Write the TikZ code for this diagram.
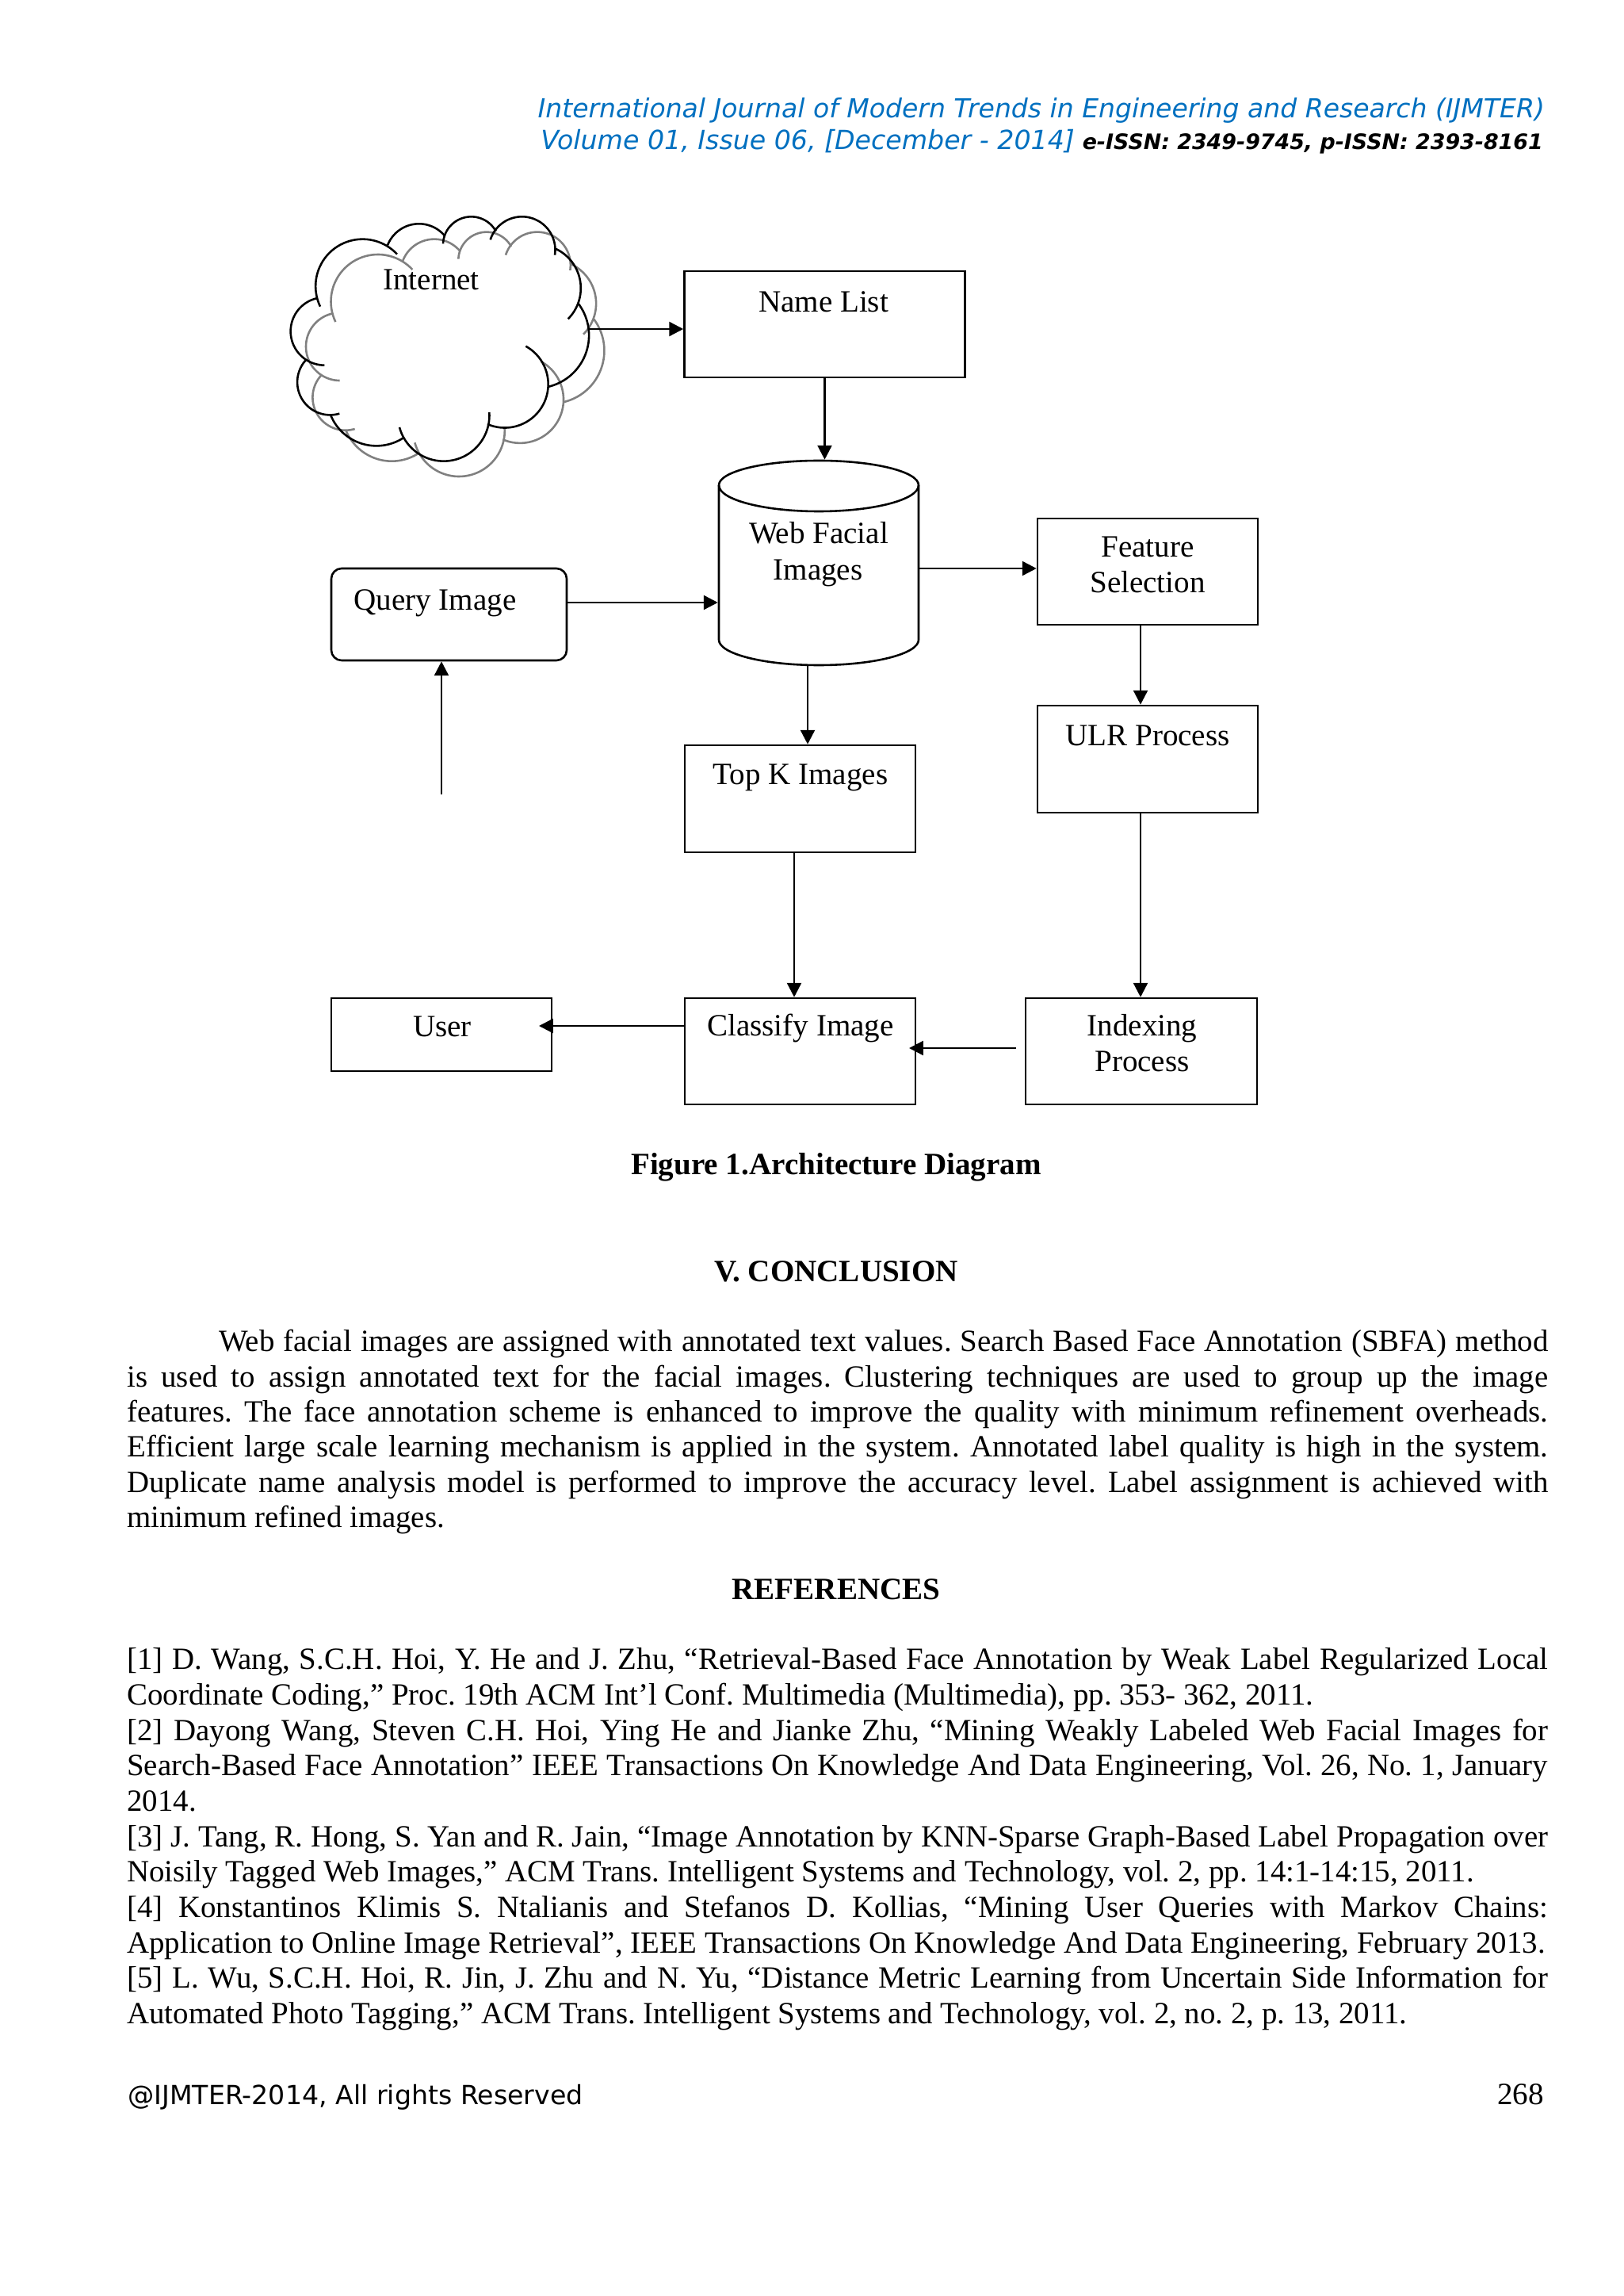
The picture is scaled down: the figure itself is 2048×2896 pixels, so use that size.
\documentclass[tikz,border=0pt]{standalone}
\usepackage{fontspec}
\setmainfont{Liberation Serif}
\newfontfamily\headfont{DejaVu Sans}
\usetikzlibrary{arrows.meta}
\frenchspacing
\definecolor{headblue}{RGB}{0,112,192}
\newcounter{tln}
\newlength{\bodyW}\setlength{\bodyW}{520.9pt}
\newlength{\bodyWi}\setlength{\bodyWi}{487.2pt}
\newcommand{\jline}[2]{\stepcounter{tln}\node[txtl] (line\thetln) at (159,#1) {\makebox[\bodyW][s]{#2}};}
\newcommand{\jlinei}[2]{\stepcounter{tln}\node[txtl] (line\thetln) at (275,#1) {\makebox[\bodyWi][s]{#2}};}
\newcommand{\pline}[2]{\stepcounter{tln}\node[txtl] (line\thetln) at (159,#1) {#2};}
% circular arc from A through M to B
\newcommand{\carc}[6]{%
 \pgfmathsetmacro{\ax}{#1/100}\pgfmathsetmacro{\ay}{#2/100}%
 \pgfmathsetmacro{\mx}{#3/100}\pgfmathsetmacro{\my}{#4/100}%
 \pgfmathsetmacro{\bx}{#5/100}\pgfmathsetmacro{\by}{#6/100}%
 \pgfmathsetmacro{\dd}{2*(\ax*(\my-\by)+\mx*(\by-\ay)+\bx*(\ay-\my))}%
 \pgfmathsetmacro{\sa}{\ax*\ax+\ay*\ay}\pgfmathsetmacro{\sm}{\mx*\mx+\my*\my}\pgfmathsetmacro{\sb}{\bx*\bx+\by*\by}%
 \pgfmathsetmacro{\cx}{(\sa*(\my-\by)+\sm*(\by-\ay)+\sb*(\ay-\my))/\dd}%
 \pgfmathsetmacro{\cy}{(\sa*(\bx-\mx)+\sm*(\ax-\bx)+\sb*(\mx-\ax))/\dd}%
 \pgfmathsetmacro{\rr}{100*sqrt((\ax-\cx)*(\ax-\cx)+(\ay-\cy)*(\ay-\cy))}%
 \pgfmathsetmacro{\aa}{atan2(\ay-\cy,\ax-\cx)}%
 \pgfmathsetmacro{\am}{atan2(\my-\cy,\mx-\cx)}%
 \pgfmathsetmacro{\ab}{atan2(\by-\cy,\bx-\cx)}%
 \pgfmathsetmacro{\dm}{mod(\am-\aa+720,360)}%
 \pgfmathsetmacro{\db}{mod(\ab-\aa+720,360)}%
 \pgfmathsetmacro{\sweep}{\dm<\db ? \db : \db-360}%
 \pgfmathsetmacro{\aend}{\aa+\sweep}%
 \draw plot[domain=\aa:\aend,samples=40,smooth] ({100*\cx+\rr*cos(\x)},{100*\cy+\rr*sin(\x)});%
}
\newcommand{\cloudshape}{%
 \carc{192}{410}{350}{155}{483}{212}
 \carc{447}{178}{570}{97}{663}{142}
 \carc{657}{172}{765}{70}{857}{125}
 \carc{836}{157}{950}{70}{1080}{215}
 \carc{1080}{190}{1178}{350}{1130}{457}
 \carc{1170}{400}{1205}{560}{1057}{713}
 \carc{970}{560}{1055}{700}{825}{855}
 \carc{832}{810}{660}{995}{492}{867}
 \carc{505}{908}{400}{937}{232}{822}
 \carc{265}{815}{110}{730}{138}{612}
 \carc{208}{632}{80}{500}{182}{378}
}
\tikzset{
 boxn/.style={draw=black,line width=0.75pt,inner sep=0pt,fill=white},
 ghost/.style={inner sep=0pt},
 lbl/.style={anchor=base,inner sep=0pt,font=\fontsize{11.35}{14}\selectfont},
 txtl/.style={anchor=base west,inner sep=0pt,font=\fontsize{11.3}{14}\selectfont},
 boldc/.style={anchor=base,inner sep=0pt,font=\fontsize{11.35}{14}\selectfont\bfseries},
 arr/.style={line width=0.75pt,-{Triangle[length=5.2pt,width=5.2pt]}},
 dims/.style 2 args={minimum width=#1*0.29053pt,minimum height=#2*0.29053pt},
}
\begin{document}
\begin{tikzpicture}[x=0.29053pt,y=-0.29053pt,line width=0.75pt]
\useasboundingbox[fill=white] (0,0) rectangle (2048,2896);

% header
\node[anchor=base east,inner sep=0pt,text=headblue,font=\headfont\itshape\fontsize{9.6}{12}\selectfont] (h1) at (1950,149) {International Journal of Modern Trends in Engineering and Research (IJMTER)};
\node[anchor=base west,inner sep=0pt,text=headblue,font=\headfont\itshape\fontsize{9.65}{12}\selectfont] (h2) at (681,189) {Volume 01, Issue 06, [December - 2014]};
\node[anchor=base east,inner sep=0pt,font=\headfont\itshape\bfseries\fontsize{7.8}{10}\selectfont] (h3) at (1948,189) {e-ISSN: 2349-9745, p-ISSN: 2393-8161};

% cloud
\begin{scope}[shift={(340,250)},x=0.096843pt,y=-0.096843pt,line width=0.75pt]
 \begin{scope}[shift={(58,58)},draw=black!50]
  \cloudshape
 \end{scope}
 \begin{scope}
  \cloudshape
 \end{scope}
\end{scope}
\node[ghost,dims={500}{310}] (cloud) at (570,430) {};
\coordinate (cloudport) at (742,415);
\node[lbl] (cloudt) at (544,366) {Internet};

% boxes
\node[boxn,dims={354}{134}] (namelist) at (1040.5,409) {};
\node[lbl] (namelistt) at (1039,394) {Name List};

\node[ghost,dims={252}{258}] (web) at (1033,710) {};
\draw[line width=0.75pt] (907,612) arc[start angle=180,end angle=0,x radius=126,y radius=-31]
   -- (1159,807) arc[start angle=0,end angle=-180,x radius=126,y radius=-32] -- cycle;
\draw[line width=0.75pt] (907,612) arc[start angle=180,end angle=360,x radius=126,y radius=-33];
\node[lbl] (webt1) at (1033,686) {Web Facial};
\node[lbl] (webt2) at (1032,732) {Images};

\node[boxn,rounded corners=3.8pt,dims={297}{116}] (query) at (566.5,775) {};
\node[lbl] (queryt) at (549,770) {Query Image};

\node[boxn,dims={278}{134}] (feature) at (1448,721) {};
\node[lbl] (featuret1) at (1448,703) {Feature};
\node[lbl] (featuret2) at (1448,748) {Selection};

\node[boxn,dims={291}{135}] (topk) at (1009.5,1007.5) {};
\node[lbl] (topkt) at (1010,989) {Top K Images};

\node[boxn,dims={278}{135}] (ulr) at (1448,957.5) {};
\node[lbl] (ulrt) at (1448,940) {ULR Process};

\node[boxn,dims={278}{92}] (user) at (557,1305) {};
\node[lbl] (usert) at (558,1307) {User};

\node[boxn,dims={291}{134}] (classify) at (1009.5,1326) {};
\node[lbl] (classifyt) at (1010,1306) {Classify Image};

\node[boxn,dims={292}{134}] (indexing) at (1440,1326) {};
\node[lbl] (indexingt1) at (1441,1306) {Indexing};
\node[lbl] (indexingt2) at (1441,1351) {Process};

% connectors
\coordinate (xfree) at (557,1002);
\coordinate (xtopk) at (1019,0);
\coordinate (xulr) at (1439,0);
\coordinate (xcls) at (1002,0);
\coordinate (ytop) at (0,717);
\coordinate (yquery) at (0,760);
\coordinate (yuser) at (0,1294);
\coordinate (utip) at (680,1294);
\coordinate (itail) at (1282,1322);
\coordinate (itip) at (1147,1322);
\draw[arr] (cloudport) -- (namelist.west |- cloudport);
\draw[arr] (namelist.south) -- (namelist.south |- web.north);
\draw[arr] (query.east |- yquery) -- (web.west |- yquery);
\draw[arr] (xfree) -- (query.south -| xfree);
\draw[arr] (web.south -| xtopk) -- (topk.north -| xtopk);
\draw[arr] (web.east |- ytop) -- (feature.west |- ytop);
\draw[arr] (feature.south -| xulr) -- (ulr.north -| xulr);
\draw[arr] (ulr.south -| xulr) -- (indexing.north -| xulr);
\draw[arr] (topk.south -| xcls) -- (classify.north -| xcls);
\draw[arr] (classify.west |- yuser) -- (utip);
\draw[arr] (itail) -- (itip);

% caption and text
\node[boldc] (caption) at (1055,1481) {Figure 1.Architecture Diagram};
\node[boldc] (concl) at (1055,1616) {V. CONCLUSION};
\jlinei{1704}{Web facial images are assigned with annotated text values. Search Based Face Annotation (SBFA) method}
\jline{1749}{is used to assign annotated text for the facial images. Clustering techniques are used to group up the image}
\jline{1793}{features. The face annotation scheme is enhanced to improve the quality with minimum refinement overheads.}
\jline{1837}{Efficient large scale learning mechanism is applied in the system. Annotated label quality is high in the system.}
\jline{1882}{Duplicate name analysis model is performed to improve the accuracy level. Label assignment is achieved with}
\pline{1926}{minimum refined images.}
\node[boldc] (refs) at (1055,2017) {REFERENCES};
\jline{2105}{[1] D. Wang, S.C.H. Hoi, Y. He and J. Zhu, “Retrieval-Based Face Annotation by Weak Label Regularized Local}
\pline{2150}{Coordinate Coding,” Proc. 19th ACM Int’l Conf. Multimedia (Multimedia), pp. 353- 362, 2011.}
\jline{2195}{[2] Dayong Wang, Steven C.H. Hoi, Ying He and Jianke Zhu, “Mining Weakly Labeled Web Facial Images for}
\jline{2239}{Search-Based Face Annotation” IEEE Transactions On Knowledge And Data Engineering, Vol. 26, No. 1, January}
\pline{2284}{2014.}
\jline{2329}{[3] J. Tang, R. Hong, S. Yan and R. Jain, “Image Annotation by KNN-Sparse Graph-Based Label Propagation over}
\pline{2373}{Noisily Tagged Web Images,” ACM Trans. Intelligent Systems and Technology, vol. 2, pp. 14:1-14:15, 2011.}
\jline{2418}{[4] Konstantinos Klimis S. Ntalianis and Stefanos D. Kollias, “Mining User Queries with Markov Chains:}
\pline{2463}{Application to Online Image Retrieval”, IEEE Transactions On Knowledge And Data Engineering, February 2013.}
\jline{2507}{[5] L. Wu, S.C.H. Hoi, R. Jin, J. Zhu and N. Yu, “Distance Metric Learning from Uncertain Side Information for}
\pline{2552}{Automated Photo Tagging,” ACM Trans. Intelligent Systems and Technology, vol. 2, no. 2, p. 13, 2011.}

% footer
\node[anchor=base west,inner sep=0pt,font=\headfont\fontsize{9.65}{11}\selectfont] (foot) at (160,2654) {@IJMTER-2014, All rights Reserved};
\node[anchor=base east,inner sep=0pt,font=\fontsize{11.35}{14}\selectfont] (pageno) at (1949,2654) {268};
\end{tikzpicture}
\end{document}
